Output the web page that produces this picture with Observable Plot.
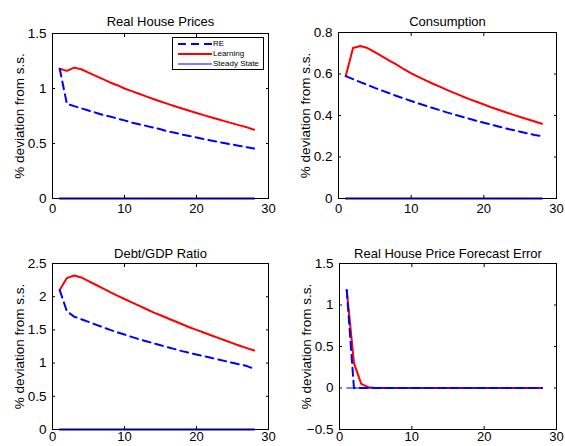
<!DOCTYPE html>
<html><head><meta charset="utf-8">
<script src="https://cdn.jsdelivr.net/npm/d3@7"></script>
<script src="https://cdn.jsdelivr.net/npm/@observablehq/plot@0.6"></script>
<style>
body{margin:0;background:#fff;}
#root{position:relative;width:565px;height:446px;background:#fff;font-family:"Liberation Sans",Arial,sans-serif;overflow:hidden;}
#root svg{position:absolute;}
.legend{position:absolute;border:1px solid #000;background:#fff;font-size:8px;}
.legend div{position:relative;height:10px;line-height:10px;white-space:nowrap;}
</style></head><body><div id="root"></div>
<script>
const periods = [1,2,3,4,5,6,7,8,9,10,11,12,13,14,15,16,17,18,19,20,21,22,23,24,25,26,27,28];
const seriesNames = ["RE", "Learning", "Steady State"];
const xTicks = [0, 10, 20, 30];

// Real House Prices
const housePriceRE = [1.18,0.86,0.84,0.82,0.80,0.78,0.76,0.745,0.727,0.71,0.69,0.675,0.66,0.645,0.63,0.61,0.597,0.582,0.568,0.555,0.54,0.528,0.515,0.502,0.49,0.478,0.466,0.455];
const housePriceLearning = [1.18,1.16,1.19,1.175,1.145,1.115,1.085,1.055,1.03,1.0,0.976,0.952,0.928,0.905,0.882,0.86,0.838,0.818,0.798,0.778,0.758,0.739,0.72,0.701,0.683,0.665,0.647,0.625];
// Consumption
const consumptionRE = [0.59,0.575,0.561,0.547,0.533,0.52,0.507,0.494,0.482,0.47,0.458,0.447,0.436,0.425,0.414,0.404,0.394,0.384,0.374,0.365,0.356,0.347,0.338,0.33,0.322,0.314,0.306,0.30];
const consumptionLearning = [0.59,0.725,0.735,0.725,0.705,0.685,0.665,0.645,0.623,0.603,0.586,0.569,0.553,0.538,0.522,0.508,0.493,0.479,0.466,0.453,0.44,0.428,0.416,0.404,0.393,0.382,0.371,0.36];
// Debt/GDP Ratio
const debtRE = [2.1,1.78,1.70,1.66,1.62,1.58,1.54,1.50,1.465,1.43,1.395,1.36,1.33,1.30,1.27,1.24,1.21,1.18,1.155,1.13,1.105,1.08,1.055,1.03,1.005,0.98,0.955,0.915];
const debtLearning = [2.1,2.28,2.32,2.29,2.235,2.18,2.125,2.07,2.015,1.965,1.915,1.865,1.815,1.765,1.72,1.675,1.63,1.585,1.54,1.5,1.46,1.42,1.38,1.34,1.30,1.262,1.225,1.19];
// Real House Price Forecast Error
const errorRE = [1.18,0,0,0,0,0,0,0,0,0,0,0,0,0,0,0,0,0,0,0,0,0,0,0,0,0,0,0];
const errorLearning = [1.18,0.3,0.05,0.01,0,0,0,0,0,0,0,0,0,0,0,0,0,0,0,0,0,0,0,0,0,0,0,0];
const steadyState = [0,0,0,0,0,0,0,0,0,0,0,0,0,0,0,0,0,0,0,0,0,0,0,0,0,0,0,0];

const titles = ["Real House Prices", "Consumption", "Debt/GDP Ratio", "Real House Price Forecast Error"];
const yLabel = "% deviation from s.s.";
const yDomains = [[0,1.5],[0,0.8],[0,2.5],[-0.5,1.5]];
const yTicks = [[0,0.5,1,1.5],[0,0.2,0.4,0.6,0.8],[0,0.5,1,1.5,2,2.5],[-0.5,0,0.5,1,1.5]];

const reSeries = [housePriceRE, consumptionRE, debtRE, errorRE];
const learnSeries = [housePriceLearning, consumptionLearning, debtLearning, errorLearning];

const layout = [
  {left:0,   top:0,   w:282, h:223, ml:52, mr:14, mt:33, mb:25, xpad:5, tdy:-17},
  {left:282, top:0,   w:283, h:223, ml:56, mr:9,  mt:32, mb:25, xpad:5, tdy:-16},
  {left:0,   top:223, w:282, h:223, ml:52, mr:14, mt:40, mb:17, xpad:2, tdy:-15},
  {left:282, top:223, w:283, h:223, ml:57, mr:9,  mt:40, mb:17, xpad:2, tdy:-15}
];

const T = 3; // inward tick length
const fmt = d => d < 0 ? "\u2212" + Math.abs(d) : String(d);
const blank = () => "";
const rowsOf = vals => periods.map((p, i) => ({x: p, y: vals[i]}));
const root = document.getElementById("root");

layout.forEach((L, k) => {
  const chart = Plot.plot({
    width: L.w, height: L.h,
    marginLeft: L.ml, marginRight: L.mr, marginTop: L.mt, marginBottom: L.mb,
    style: {fontFamily: '"Liberation Sans", Arial, sans-serif', fontSize: "13px", background: "transparent", overflow: "visible", color: "#000"},
    x: {domain: [0, 30]},
    y: {domain: yDomains[k]},
    marks: [
      Plot.line(rowsOf(learnSeries[k]), {x: "x", y: "y", stroke: "#ff0000", strokeWidth: 2}),
      Plot.line(rowsOf(reSeries[k]), {x: "x", y: "y", stroke: "#0000ff", strokeWidth: 2, strokeDasharray: "8,5"}),
      Plot.frame({stroke: "#000", strokeWidth: 1}),
      Plot.line(rowsOf(steadyState), {x: "x", y: "y", stroke: k === 3 ? "#0000ff" : "#00008b", strokeWidth: k === 3 ? 1 : 2}),
      Plot.axisX(xTicks, {anchor: "bottom", tickSize: 0, tickPadding: L.xpad, tickFormat: fmt, label: null}),
      Plot.axisX(xTicks, {anchor: "bottom", tickSize: T, dy: -T, tickFormat: blank, label: null}),
      Plot.axisX(xTicks, {anchor: "top", tickSize: T, dy: T, tickFormat: blank, label: null}),
      Plot.axisY(yTicks[k], {anchor: "left", tickSize: 0, tickPadding: 6, tickFormat: fmt, label: yLabel, labelAnchor: "center", labelOffset: 38, labelArrow: "none", fontSize: 13.5}),
      Plot.axisY(yTicks[k], {anchor: "left", tickSize: T, dx: T, tickFormat: blank, label: null}),
      Plot.axisY(yTicks[k], {anchor: "right", tickSize: T, dx: -T, tickFormat: blank, label: null}),
      Plot.text([titles[k]], {text: d => d, frameAnchor: "top", dy: L.tdy, fontSize: 13})
    ]
  });
  chart.style.left = L.left + "px";
  chart.style.top = L.top + "px";
  root.appendChild(chart);
});

// legend in the first panel
const leg = document.createElement("div");
leg.className = "legend";
Object.assign(leg.style, {left: "172px", top: "37px", width: "92px", height: "33px", paddingTop: "1px", boxSizing: "border-box"});
const legStyles = [
  {stroke: "#0000ff", width: 2, dash: "8,5"},
  {stroke: "#ff0000", width: 2, dash: null},
  {stroke: "#0000ff", width: 1, dash: null}
];
seriesNames.forEach((name, i) => {
  const row = document.createElement("div");
  const s = legStyles[i];
  row.innerHTML = `<svg width="36" height="10" style="position:absolute;left:4px;top:0"><line x1="1" x2="35" y1="5" y2="5" stroke="${s.stroke}" stroke-width="${s.width}" ${s.dash ? `stroke-dasharray="${s.dash}"` : ""}/></svg><span style="position:absolute;left:40px;top:0">${name}</span>`;
  leg.appendChild(row);
});
root.appendChild(leg);
</script>
</body></html>
